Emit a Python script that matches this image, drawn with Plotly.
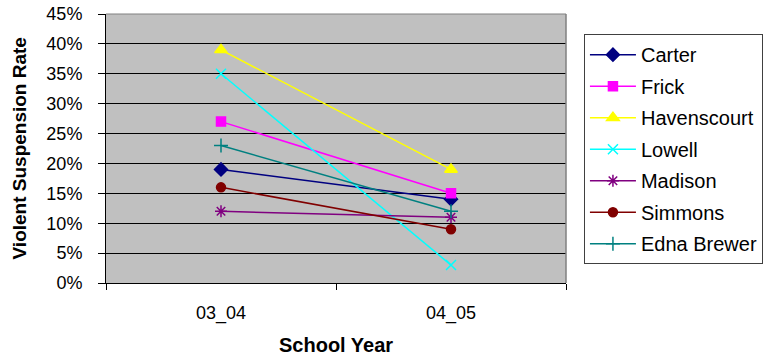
import plotly.graph_objects as go

# School years on the category axis
years = ["03_04", "04_05"]

# Violent suspension rate (%) per school
carter = [19, 14]
frick = [27, 15]
havenscourt = [39, 19]
lowell = [35, 3]
madison = [12, 11]
simmons = [16, 9]
edna_brewer = [23, 12]

series = [
    ("Carter", carter, "#000080", "diamond", 10),
    ("Frick", frick, "#FF00FF", "square", 9),
    ("Havenscourt", havenscourt, "#FFFF00", "triangle-up", 11),
    ("Lowell", lowell, "#00FFFF", "x-thin-open", 10),
    ("Madison", madison, "#800080", "asterisk-open", 10),
    ("Simmons", simmons, "#800000", "circle", 9),
    ("Edna Brewer", edna_brewer, "#008080", "cross-thin-open", 10),
]

fig = go.Figure()
for i, (name, vals, color, symbol, size) in enumerate(series):
    fig.add_trace(go.Scatter(
        x=years,
        y=[v / 100 for v in vals],
        name=name,
        mode="lines+markers",
        legendgroup=f"g{i}",
        line=dict(color=color, width=1.5),
        marker=dict(symbol=symbol, size=size, color=color,
                    line=dict(color=color, width=1.5)),
    ))

font_family = "Liberation Sans, Arial, sans-serif"

fig.update_layout(
    width=774,
    height=360,
    margin=dict(l=106, r=208, t=14, b=77, autoexpand=False),
    paper_bgcolor="white",
    plot_bgcolor="#C0C0C0",
    font=dict(family=font_family, size=16, color="black"),
    showlegend=True,
    legend=dict(
        x=1.039, y=0.925, xanchor="left", yanchor="top",
        bgcolor="white", bordercolor="#404040", borderwidth=1,
        font=dict(family=font_family, size=20, color="black"),
        traceorder="grouped", tracegroupgap=2.5,
        itemwidth=46,
    ),
    xaxis=dict(
        type="category",
        range=[-0.5, 1.5],
        automargin=False,
        showline=True, linecolor="black", linewidth=1,
        ticks="outside", ticklen=6, tickcolor="black",
        tickson="boundaries",
        showgrid=False,
        tickfont=dict(size=18),
        ticklabelstandoff=13,
    ),
    yaxis=dict(
        range=[0, 0.45],
        automargin=False,
        tickvals=[i * 0.05 for i in range(10)],
        tickformat=".0%",
        showline=True, linecolor="black", linewidth=1,
        ticks="outside", ticklen=7, tickcolor="black",
        showgrid=True, gridcolor="black", gridwidth=1,
        tickfont=dict(size=18),
        ticklabelstandoff=12,
        zeroline=False,
    ),
    shapes=[
        # light frame on the top and right of the plotting area
        dict(type="line", xref="paper", yref="paper", x0=0, x1=1, y0=1, y1=1,
             line=dict(color="#808080", width=1)),
        dict(type="line", xref="paper", yref="paper", x0=1, x1=1, y0=0, y1=1,
             line=dict(color="#808080", width=1.5)),
    ],
    annotations=[
        dict(text="<b>Violent Suspension Rate</b>", xref="paper", yref="paper",
             x=-0.187, y=0.5, xanchor="center", yanchor="middle",
             textangle=-90, showarrow=False,
             font=dict(family=font_family, size=19, color="black")),
        dict(text="<b>School Year</b>", xref="paper", yref="paper",
             x=0.5, y=-0.23, xanchor="center", yanchor="middle",
             showarrow=False,
             font=dict(family=font_family, size=20, color="black")),
    ],
)

fig.write_html("out.html")
